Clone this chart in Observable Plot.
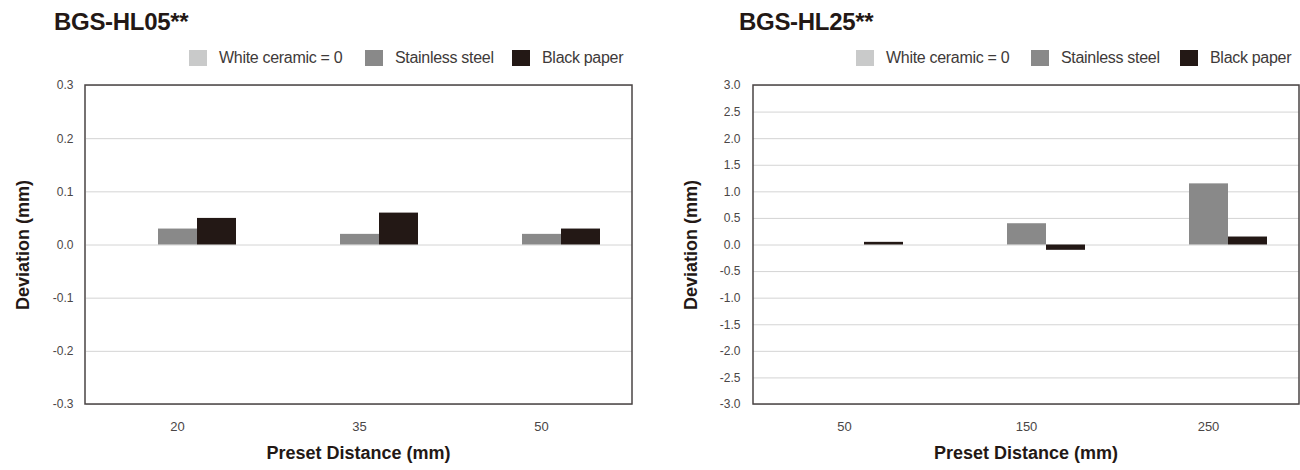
<!DOCTYPE html>
<html>
<head>
<meta charset="utf-8">
<script src="https://cdn.jsdelivr.net/npm/d3@7"></script>
<script src="https://cdn.jsdelivr.net/npm/@observablehq/plot@0.6"></script>
<style>
  html, body { margin: 0; padding: 0; background: #fff; }
  body { width: 1300px; height: 470px; position: relative; overflow: hidden; font-family: "Liberation Sans", Arial, sans-serif; }
  .panel { position: absolute; top: 0; width: 650px; height: 470px; }
  .title { position: absolute; top: 8px; font-size: 24px; font-weight: bold; color: #231815; letter-spacing: -0.3px; white-space: nowrap; }
  .leg-sw { position: absolute; top: 50px; width: 18px; height: 16px; }
  .leg-tx { position: absolute; top: 49px; font-size: 16px; line-height: 18px; color: #3e3a39; letter-spacing: -0.3px; white-space: nowrap; }
  .chart { position: absolute; left: 0; top: 70px; }
  .ylab { position: absolute; font-size: 18px; font-weight: bold; color: #231815; white-space: nowrap; transform: translate(-50%, -50%) rotate(-90deg); }
  .xlab { position: absolute; font-size: 18px; font-weight: bold; color: #231815; white-space: nowrap; transform: translate(-50%, -50%); }
  g[aria-label="fx-axis tick label"] text { font-size: 13px; }
</style>
</head>
<body>
<div id="left" class="panel" style="left:0px"></div>
<div id="right" class="panel" style="left:650px"></div>
<script>
// ---- data ----
const seriesNames = ["White ceramic = 0", "Stainless steel", "Black paper"];
const seriesColors = ["#c9caca", "#898989", "#231815"];

const hl05Title = "BGS-HL05**";
const hl05Distances = ["20", "35", "50"];
const hl05White = [0, 0, 0];
const hl05Stainless = [0.03, 0.02, 0.02];
const hl05Black = [0.05, 0.06, 0.03];
const hl05YTicks = [-0.3, -0.2, -0.1, 0.0, 0.1, 0.2, 0.3];

const hl25Title = "BGS-HL25**";
const hl25Distances = ["50", "150", "250"];
const hl25White = [0, 0, 0];
const hl25Stainless = [0, 0.4, 1.15];
const hl25Black = [0.05, -0.1, 0.15];
const hl25YTicks = [-3.0, -2.5, -2.0, -1.5, -1.0, -0.5, 0.0, 0.5, 1.0, 1.5, 2.0, 2.5, 3.0];

const xAxisLabel = "Preset Distance (mm)";
const yAxisLabel = "Deviation (mm)";

function buildTable(distances, white, stainless, black) {
  const rows = [];
  distances.forEach((d, i) => {
    rows.push({dist: d, series: seriesNames[0], value: white[i]});
    rows.push({dist: d, series: seriesNames[1], value: stainless[i]});
    rows.push({dist: d, series: seriesNames[2], value: black[i]});
  });
  return rows;
}

function drawPanel(container, cfg) {
  const el = document.getElementById(container);
  const t = document.createElement("div");
  t.className = "title"; t.style.left = cfg.titleX + "px"; t.textContent = cfg.title;
  el.appendChild(t);
  seriesNames.forEach((name, i) => {
    const sw = document.createElement("div");
    sw.className = "leg-sw"; sw.style.left = cfg.legendX[i] + "px"; sw.style.background = seriesColors[i];
    el.appendChild(sw);
    const tx = document.createElement("div");
    tx.className = "leg-tx"; tx.style.left = (cfg.legendX[i] + 30) + "px"; tx.textContent = name;
    el.appendChild(tx);
  });

  const data = buildTable(cfg.distances, cfg.white, cfg.stainless, cfg.black);
  const W = 650, H = 400;
  const chart = Plot.plot({
    width: W, height: H,
    marginTop: 15, marginBottom: 66, marginLeft: cfg.marginLeft, marginRight: cfg.marginRight,
    style: {fontSize: "12px", fontFamily: "'Liberation Sans', Arial, sans-serif", color: "#4a4646", background: "transparent"},
    fx: {domain: cfg.distances, padding: 0, axis: "bottom", tickSize: 0, tickPadding: 17, label: null},
    x: {domain: seriesNames, axis: null, paddingInner: 0, paddingOuter: 0.81},
    y: {domain: [cfg.yTicks[0], cfg.yTicks[cfg.yTicks.length - 1]], ticks: cfg.yTicks, tickFormat: d => d.toFixed(1), tickSize: 0, tickPadding: 13, label: null},
    color: {domain: seriesNames, range: seriesColors},
    marks: [
      Plot.ruleY(cfg.yTicks, {stroke: "#d4d4d4", strokeWidth: 1}),
      Plot.barY(data, {fx: "dist", x: "series", y: "value", fill: "series"})
    ]
  });
  const holder = document.createElement("div");
  holder.className = "chart";
  holder.appendChild(chart);
  el.appendChild(holder);

  const fxR = chart.scale("fx").range;
  const yR = chart.scale("y").range;
  d3.select(chart).append("rect")
    .attr("x", Math.min(...fxR)).attr("y", Math.min(...yR))
    .attr("width", Math.abs(fxR[1] - fxR[0])).attr("height", Math.abs(yR[1] - yR[0]))
    .attr("fill", "none").attr("stroke", "#4a4444").attr("stroke-width", 1.5);

  const xl = document.createElement("div");
  xl.className = "xlab"; xl.textContent = xAxisLabel;
  xl.style.left = ((fxR[0] + fxR[1]) / 2) + "px"; xl.style.top = "453px";
  el.appendChild(xl);
  const yl = document.createElement("div");
  yl.className = "ylab"; yl.textContent = yAxisLabel;
  yl.style.left = cfg.yLabelX + "px"; yl.style.top = (70 + (yR[0] + yR[1]) / 2) + "px";
  el.appendChild(yl);
}

drawPanel("left", {
  title: hl05Title, titleX: 54, legendX: [189, 365, 512],
  distances: hl05Distances, white: hl05White, stainless: hl05Stainless, black: hl05Black,
  yTicks: hl05YTicks, marginLeft: 85, marginRight: 18, yLabelX: 23
});
drawPanel("right", {
  title: hl25Title, titleX: 89, legendX: [206, 381, 530],
  distances: hl25Distances, white: hl25White, stainless: hl25Stainless, black: hl25Black,
  yTicks: hl25YTicks, marginLeft: 103, marginRight: 1, yLabelX: 41
});
</script>
</body>
</html>
